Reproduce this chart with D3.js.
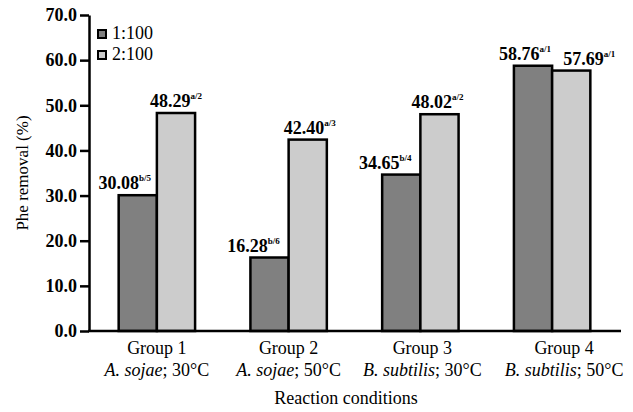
<!DOCTYPE html>
<html><head><meta charset="utf-8">
<script src="https://cdn.jsdelivr.net/npm/d3@7"></script>
<style>
body{margin:0;background:#fff;}
svg{display:block;font-family:"Liberation Serif","Times New Roman",serif;}
</style></head>
<body><svg id="c" width="633" height="412"></svg>
<script>
const groups = ["Group 1","Group 2","Group 3","Group 4"];
const species = ["A. sojae","A. sojae","B. subtilis","B. subtilis"];
const temps = ["30°C","50°C","30°C","50°C"];
const seriesNames = ["1:100","2:100"];
const series1 = [30.08,16.28,34.65,58.76];
const series2 = [48.29,42.40,48.02,57.69];
const sup1 = ["b/5","b/6","b/4","a/1"];
const sup2 = ["a/2","a/3","a/2","a/1"];
const yTicks = [0,10,20,30,40,50,60,70];
const colors = ["#808080","#cccccc"];
// layout-only label nudges (px)
const labelDx1 = [-13,-16,-16,-8];
const labelDx2 = [0,2,-2,18];
const groupLabelDx = [0,0,2,12];

const svg = d3.select("#c");
const y = d3.scaleLinear().domain([0,70]).range([331,15]);
const x = d3.scaleBand().domain(groups).range([91,618]).paddingInner(0.42).paddingOuter(0.21);
const xs = d3.scaleBand().domain(seriesNames).range([0,x.bandwidth()]);

// bars
const data = [series1,series2];
const sups = [sup1,sup2];
const dxs = [labelDx1,labelDx2];
seriesNames.forEach((s,si)=>{
  const g = svg.append("g");
  g.selectAll("rect").data(groups).join("rect")
    .attr("x",d=>x(d)+xs(s))
    .attr("y",(d,i)=>y(data[si][i]))
    .attr("width",xs.bandwidth())
    .attr("height",(d,i)=>y(0)-y(data[si][i]))
    .attr("fill",colors[si]).attr("stroke","#000").attr("stroke-width",2.5);
  const t = g.selectAll("text").data(groups).join("text")
    .attr("x",(d,i)=>x(d)+xs(s)+xs.bandwidth()/2+dxs[si][i])
    .attr("y",(d,i)=>y(data[si][i])-6)
    .attr("text-anchor","middle")
    .attr("font-weight","bold").attr("font-size",18).attr("fill","#000");
  t.append("tspan").text((d,i)=>data[si][i].toFixed(2));
  t.append("tspan").attr("font-size",9).attr("dy",-8).text((d,i)=>sups[si][i]);
});

// y axis
const ya = svg.append("g").attr("transform","translate(89,0)")
  .call(d3.axisLeft(y).tickValues(yTicks).tickFormat(d3.format(".1f")).tickSize(9).tickSizeOuter(0));
ya.select(".domain").attr("stroke","#000").attr("stroke-width",2.5);
ya.selectAll(".tick line").attr("stroke","#000").attr("stroke-width",2.5);
ya.selectAll(".tick text").attr("font-family","Liberation Serif").attr("font-weight","bold")
  .attr("font-size",18).attr("fill","#000").attr("x",-12);

// x axis line
svg.append("line").attr("x1",88).attr("x2",621).attr("y1",y(0)).attr("y2",y(0))
  .attr("stroke","#000").attr("stroke-width",2.5);

// group labels
groups.forEach((gname,i)=>{
  const cx = x(gname)+x.bandwidth()/2+groupLabelDx[i];
  svg.append("text").attr("x",cx).attr("y",354).attr("text-anchor","middle")
    .attr("font-size",18).text(gname);
  const t = svg.append("text").attr("x",cx).attr("y",376).attr("text-anchor","middle").attr("font-size",18);
  t.append("tspan").attr("font-style","italic").text(species[i]);
  t.append("tspan").text("; "+temps[i]);
});

// axis titles
svg.append("text").attr("x",346).attr("y",404).attr("text-anchor","middle").attr("font-size",18)
  .text("Reaction conditions");
svg.append("text").attr("transform","translate(28,173) rotate(-90)").attr("text-anchor","middle")
  .attr("font-size",17).text("Phe removal (%)");

// legend
seriesNames.forEach((s,i)=>{
  const ly = 34 + i*21;
  svg.append("rect").attr("x",98).attr("y",ly-4).attr("width",8).attr("height",8)
    .attr("fill",colors[i]).attr("stroke","#000").attr("stroke-width",2);
  svg.append("text").attr("x",112).attr("y",ly+5).attr("font-size",18).text(s);
});
</script></body></html>
